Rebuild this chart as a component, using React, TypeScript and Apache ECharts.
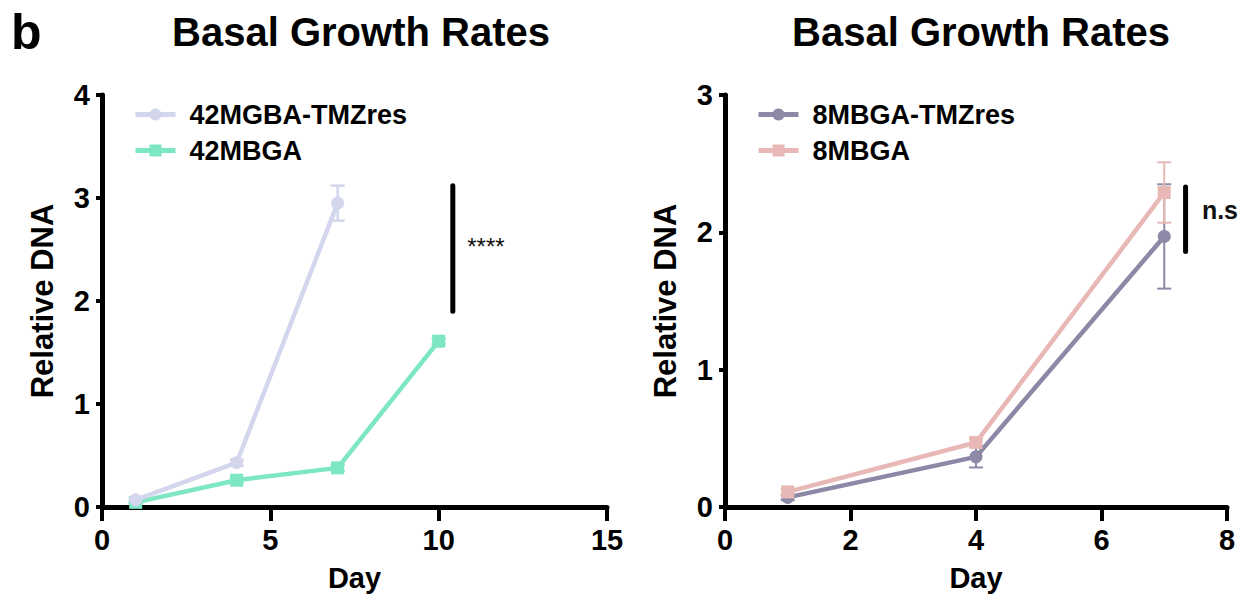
import React, { useEffect, useRef } from "react";
import * as echarts from "echarts";

// ---- Data ----
const titleText = "Basal Growth Rates";
const panelLetter = "b";

// Left panel
const leftDaysTmz = [1, 4, 7];
const left42Tmz = [0.07, 0.43, 2.95];
const left42TmzErr = [0.02, 0.03, 0.17];
const leftDays42 = [1, 4, 7, 10];
const left42 = [0.045, 0.26, 0.38, 1.61];
const left42Err = [0.01, 0.02, 0.03, 0.03];
const leftSig = [10.42, 1.9, 3.12];
const leftSigLabel = { text: "****", x: 10.85, y: 2.53 };

// Right panel
const rightDays = [1, 4, 7];
const right8Tmz = [0.07, 0.365, 1.97];
const right8TmzErr = [0.02, 0.077, 0.38];
const right8 = [0.11, 0.47, 2.29];
const right8Err = [0.02, 0.03, 0.22];
const rightSig = [7.34, 1.86, 2.33];
const rightSigLabel = { text: "n.s", x: 7.6, y: 2.16 };

const seriesNames = ["42MGBA-TMZres", "42MBGA", "8MBGA-TMZres", "8MBGA"];
const colors = ["#d3d6ec", "#7de6c2", "#8b89a6", "#e8b8b6"];

const FONT = "'Liberation Sans', Arial, sans-serif";

function pairs(xs: number[], ys: number[]) {
  return xs.map((x, i) => [x, ys[i]]);
}
function triples(xs: number[], ys: number[], es: number[]) {
  return xs.map((x, i) => [x, ys[i], es[i]]);
}

function errorSeries(name: string, data: number[][], color: string, idx: number, width: number) {
  return {
    type: "custom",
    name: name + "-err",
    xAxisIndex: idx,
    yAxisIndex: idx,
    z: 1,
    silent: true,
    data,
    renderItem: (params: any, api: any) => {
      const x = api.value(0);
      const y = api.value(1);
      const e = api.value(2);
      const top = api.coord([x, y + e]);
      const bot = api.coord([x, y - e]);
      const half = 7;
      const style = { stroke: color, lineWidth: width };
      return {
        type: "group",
        children: [
          { type: "line", shape: { x1: top[0], y1: top[1], x2: bot[0], y2: bot[1] }, style },
          { type: "line", shape: { x1: top[0] - half, y1: top[1], x2: top[0] + half, y2: top[1] }, style },
          { type: "line", shape: { x1: bot[0] - half, y1: bot[1], x2: bot[0] + half, y2: bot[1] }, style },
        ],
      };
    },
  };
}

function sigSeries(sig: number[], label: { text: string; x: number; y: number }, idx: number, fontSize: number, fontWeight: string) {
  return {
    type: "custom",
    xAxisIndex: idx,
    yAxisIndex: idx,
    silent: true,
    z: 5,
    data: [[sig[0], sig[1], sig[2], label.x, label.y]],
    renderItem: (params: any, api: any) => {
      const p0 = api.coord([api.value(0), api.value(1)]);
      const p1 = api.coord([api.value(0), api.value(2)]);
      const t = api.coord([api.value(3), api.value(4)]);
      return {
        type: "group",
        children: [
          {
            type: "line",
            shape: { x1: p0[0], y1: p0[1], x2: p1[0], y2: p1[1] },
            style: { stroke: "#000", lineWidth: 5, lineCap: "round" },
          },
          {
            type: "text",
            x: t[0],
            y: t[1],
            style: {
              text: label.text,
              fontSize,
              fontWeight,
              fontFamily: FONT,
              fill: "#111",
              align: "left",
              verticalAlign: "middle",
            },
          },
        ],
      };
    },
  };
}

function xAxis(idx: number, max: number, interval: number) {
  return {
    type: "value",
    gridIndex: idx,
    min: 0,
    max,
    interval,
    name: "Day",
    nameLocation: "middle",
    nameGap: 56,
    nameTextStyle: { fontSize: 29, fontWeight: "bold", fontFamily: FONT, color: "#000" },
    axisLine: { show: true, lineStyle: { color: "#000", width: 5 } },
    axisTick: { show: true, length: 14, lineStyle: { color: "#000", width: 4 } },
    axisLabel: { margin: 18, fontSize: 29, fontWeight: "bold", fontFamily: FONT, color: "#000" },
    splitLine: { show: false },
  };
}

function yAxis(idx: number, max: number) {
  return {
    type: "value",
    gridIndex: idx,
    min: 0,
    max,
    interval: 1,
    name: "Relative DNA",
    nameLocation: "middle",
    nameGap: 44,
    nameTextStyle: { fontSize: 31, fontWeight: "bold", fontFamily: FONT, color: "#000" },
    axisLine: { show: true, lineStyle: { color: "#000", width: 5 } },
    axisTick: { show: true, length: 6, lineStyle: { color: "#000", width: 4 } },
    axisLabel: { margin: 12, fontSize: 29, fontWeight: "bold", fontFamily: FONT, color: "#000" },
    splitLine: { show: false },
  };
}

function lineSeries(name: string, data: number[][], color: string, idx: number, symbol: string, z: number) {
  return {
    type: "line",
    name,
    xAxisIndex: idx,
    yAxisIndex: idx,
    data,
    color,
    z,
    symbol,
    symbolSize: 13,
    showAllSymbol: true,
    lineStyle: { color, width: 4.5 },
    itemStyle: { color },
  };
}

function legend(left: number, names: string[]) {
  return {
    left,
    top: 96,
    orient: "vertical",
    data: names,
    itemWidth: 40,
    itemHeight: 15,
    itemGap: 9,
    lineStyle: { width: 5 },
    textStyle: {
      fontSize: 27,
      fontWeight: "bold",
      fontFamily: FONT,
      color: "#000",
      padding: [0, 0, 0, 9],
    },
    selectedMode: false,
  };
}

export default function App() {
  const ref = useRef<HTMLDivElement>(null);
  useEffect(() => {
    if (!ref.current) return;
    const chart = echarts.init(ref.current, undefined, { renderer: "svg" });
    chart.setOption({
      animation: false,
      backgroundColor: "#fff",
      title: [
        {
          text: panelLetter,
          left: 6,
          top: 2,
          textStyle: { fontSize: 50, fontWeight: "bold", fontFamily: FONT, color: "#000" },
        },
        {
          text: titleText,
          left: 356,
          top: 7,
          textAlign: "center",
          textStyle: { fontSize: 40, fontWeight: "bold", fontFamily: FONT, color: "#000" },
        },
        {
          text: titleText,
          left: 976,
          top: 7,
          textAlign: "center",
          textStyle: { fontSize: 40, fontWeight: "bold", fontFamily: FONT, color: "#000" },
        },
      ],
      legend: [legend(128, [seriesNames[0], seriesNames[1]]), legend(751, [seriesNames[2], seriesNames[3]])],
      grid: [
        { left: 102, right: 637, top: 95, bottom: 97 },
        { left: 725, right: 17, top: 95, bottom: 97 },
      ],
      xAxis: [xAxis(0, 15, 5), xAxis(1, 8, 2)],
      yAxis: [yAxis(0, 4), yAxis(1, 3)],
      series: [
        lineSeries(seriesNames[1], pairs(leftDays42, left42), colors[1], 0, "rect", 2),
        lineSeries(seriesNames[0], pairs(leftDaysTmz, left42Tmz), colors[0], 0, "circle", 3),
        errorSeries(seriesNames[0], triples(leftDaysTmz, left42Tmz, left42TmzErr), colors[0], 0, 2.5),
        errorSeries(seriesNames[1], triples(leftDays42, left42, left42Err), colors[1], 0, 2.5),
        lineSeries(seriesNames[2], pairs(rightDays, right8Tmz), colors[2], 1, "circle", 2),
        lineSeries(seriesNames[3], pairs(rightDays, right8), colors[3], 1, "rect", 3),
        errorSeries(seriesNames[2], triples(rightDays, right8Tmz, right8TmzErr), colors[2], 1, 2),
        errorSeries(seriesNames[3], triples(rightDays, right8, right8Err), colors[3], 1, 2),
        sigSeries(leftSig, leftSigLabel, 0, 24, "normal"),
        sigSeries(rightSig, rightSigLabel, 1, 25, "bold"),
      ],
    });
    return () => chart.dispose();
  }, []);
  return (
    <div
      ref={ref}
      style={{ position: "fixed", left: 0, top: 0, width: 1244, height: 604, background: "#fff" }}
    />
  );
}
